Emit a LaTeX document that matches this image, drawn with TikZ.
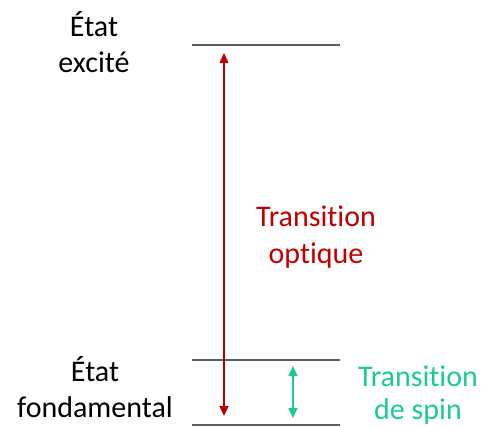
\documentclass[tikz,border=0pt]{standalone}
\usepackage{fontspec}
\setmainfont{Carlito}[Ligatures={NoCommon}]
\usetikzlibrary{arrows.meta}
\definecolor{levelgray}{HTML}{5E5E5E}
\definecolor{optred}{HTML}{C00000}
\definecolor{spingreen}{HTML}{1BCB95}
\begin{document}
\begin{tikzpicture}[x=1pt,y=-1pt,
  level/.style={draw=levelgray,line width=1.2pt},
  lbl/.style={align=center,inner sep=0pt,anchor=base,font=\fontsize{30}{36}\selectfont},
  tr/.style={line width=1.5pt,{Triangle[length=10pt,width=9pt]}-{Triangle[length=10pt,width=9pt]}}]
\useasboundingbox (0,0) rectangle (481,427);
% levels
\coordinate (e1) at (192,45);
\coordinate (e2) at (340,45);
\coordinate (g1) at (192,360);
\coordinate (g2) at (340,360);
\coordinate (b1) at (192,425);
\coordinate (b2) at (340,425);
\draw[level] (e1) -- (e2);
\draw[level] (g1) -- (g2);
\draw[level] (b1) -- (b2);
% arrows
\coordinate (rt) at (224,53);
\coordinate (rb) at (224,416);
\coordinate (gt) at (293,366);
\coordinate (gb) at (293,418);
\draw[tr,optred] (rt) -- (rb);
\draw[tr,spingreen] (gt) -- (gb);
% labels (anchor base = baseline of the last line)
\node[lbl] (exc) at (94,73) {État\\excité};
\node[lbl] (fond) at (95,417) {État\\fondamental};
\node[lbl,text=optred] (opt) at (316,263) {Transition\\optique};
\node[lbl,text=spingreen,font=\fontsize{30}{33}\selectfont] (spin) at (418,419) {Transition\\de spin};
\end{tikzpicture}
\end{document}
